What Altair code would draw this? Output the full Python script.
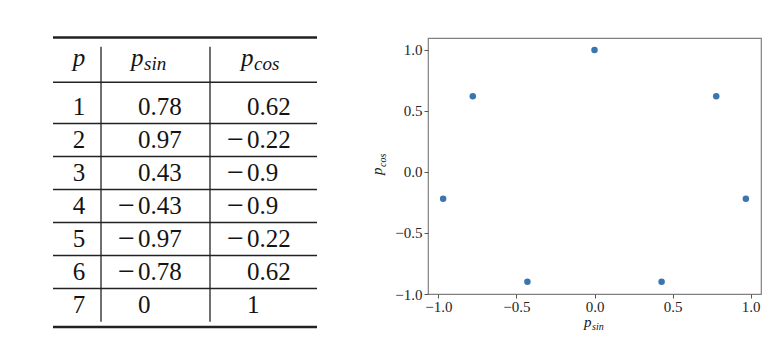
import altair as alt
import pandas as pd

# ---------------- data ----------------
p_index = [1, 2, 3, 4, 5, 6, 7]
p_sin = [0.78, 0.97, 0.43, -0.43, -0.97, -0.78, 0]
p_cos = [0.62, -0.22, -0.9, -0.9, -0.22, 0.62, 1]
tick_values = [-1.0, -0.5, 0.0, 0.5, 1.0]

# ---------------- layout (page pixels) ----------------
OX, OY = 428, 38          # page position of the scatter plot area
W, H = 333, 256           # scatter plot area size
PAGE_W, PAGE_H = 768, 344


def rx(x):
    return x - OX


def ry(y):
    return y - OY


SERIF = "Liberation Serif"
INK = "#141414"
LINE = "#222222"

# row scale of the table: row index -> vertical pixel (relative to plot origin)
row_scale = alt.Scale(domain=[0, 8], range=[ry(107 - 33), ry(107 + 7 * 33)])

# ---------------- scatter ----------------
points = pd.DataFrame({"p": p_index, "sin": p_sin, "cos": p_cos})

axis_common = dict(
    values=tick_values,
    format=".1f",
    title=None,
    grid=False,
    domain=False,
    ticks=True,
    tickSize=4,
    tickColor="#555555",
    tickWidth=1,
    labelFont=SERIF,
    labelFontSize=15,
    labelColor="#262626",
    labelFlush=False,
)

scatter = alt.Chart(points).mark_circle(size=42, color="#3b75af", opacity=1).encode(
    x=alt.X("sin:Q",
            scale=alt.Scale(domain=[-1.067, 1.067], nice=False, zero=False),
            axis=alt.Axis(labelPadding=1, **axis_common)),
    y=alt.Y("cos:Q",
            scale=alt.Scale(domain=[-1.0, 1.098], nice=False, zero=False),
            axis=alt.Axis(labelPadding=2, **axis_common)),
)

# ---------------- table ----------------
def fmt(v):
    return f"{abs(v):g}"


p_cells = pd.DataFrame({"r": p_index, "t": [str(v) for v in p_index]})
val_cells = pd.DataFrame(
    {"r": p_index * 2,
     "x": [rx(138)] * 7 + [rx(247)] * 7,
     "t": [fmt(v) for v in p_sin] + [fmt(v) for v in p_cos],
     "neg": [v < 0 for v in p_sin] + [v < 0 for v in p_cos]}
)
minus_cells = val_cells[val_cells["neg"]].copy()
minus_cells["x"] = minus_cells["x"] - 20
minus_cells["t"] = "\u2212"

ytab = alt.Y("r:Q", scale=row_scale, axis=None)

p_text = alt.Chart(p_cells).mark_text(
    font=SERIF, fontSize=25, color=INK, align="center", baseline="middle"
).encode(x=alt.value(rx(79)), y=ytab, text="t:N")

val_text = alt.Chart(val_cells).mark_text(
    font=SERIF, fontSize=25, color=INK, align="left", baseline="middle"
).encode(x=alt.X("x:Q", scale=None, axis=None), y=ytab, text="t:N")

minus_text = alt.Chart(minus_cells).mark_text(
    font=SERIF, fontSize=30, color=INK, align="left", baseline="middle"
).encode(x=alt.X("x:Q", scale=None, axis=None), y=ytab, text="t:N")

hlines = pd.DataFrame(
    {"r": [-1.106, 0.25, 1.5, 2.5, 3.5, 4.5, 5.5, 6.5, 7.667],
     "w": [2.6, 1.6, 1.3, 1.3, 1.3, 1.3, 1.3, 1.3, 2.6]}
)
hrules = alt.Chart(hlines).mark_rule(color=LINE).encode(
    x=alt.value(rx(53)), x2=alt.value(rx(317)),
    y=alt.Y("r:Q", scale=row_scale, axis=None),
    strokeWidth=alt.StrokeWidth("w:Q", scale=None),
)

vlines = pd.DataFrame({"x": [rx(101), rx(210)], "r1": [-0.827, -0.827], "r2": [7.506, 7.506]})
vrules = alt.Chart(vlines).mark_rule(color=LINE, strokeWidth=1.3).encode(
    x=alt.X("x:Q", scale=None, axis=None),
    y=alt.Y("r1:Q", scale=row_scale, axis=None),
    y2="r2:Q",
)

one = pd.DataFrame({"a": [0]})


def label(text, x, y, size, align="left", angle=0):
    return alt.Chart(one).mark_text(
        font=SERIF, fontSize=size, fontStyle="italic", color=INK,
        align=align, baseline="alphabetic", angle=angle,
    ).encode(x=alt.value(rx(x)), y=alt.value(ry(y)), text=alt.value(text))


headers = [
    label("p", 79, 66, 25, align="center"),
    label("p", 131, 66, 25),
    label("sin", 144, 69.5, 19),
    label("p", 241, 66, 25),
    label("cos", 254, 69.5, 19),
]

axis_titles = [
    label("p", 584, 327, 15),
    label("sin", 592, 329.5, 10),
    label("p", 382, 175, 15, angle=270),
    label("cos", 386, 167, 10, angle=270),
]

chart = alt.layer(
    scatter, hrules, vrules, p_text, val_text, minus_text, *headers, *axis_titles
).resolve_scale(
    x="independent", y="independent"
).properties(
    width=W,
    height=H,
    padding={"left": OX - 8, "top": OY - 8, "right": PAGE_W - (OX - 8) - W,
             "bottom": PAGE_H - (OY - 8) - H},
    autosize=alt.AutoSizeParams(type="none"),
).configure_view(
    stroke="#808080", strokeWidth=1.2
)

chart.save("out.html", embed_options={"renderer": "svg", "actions": False})
